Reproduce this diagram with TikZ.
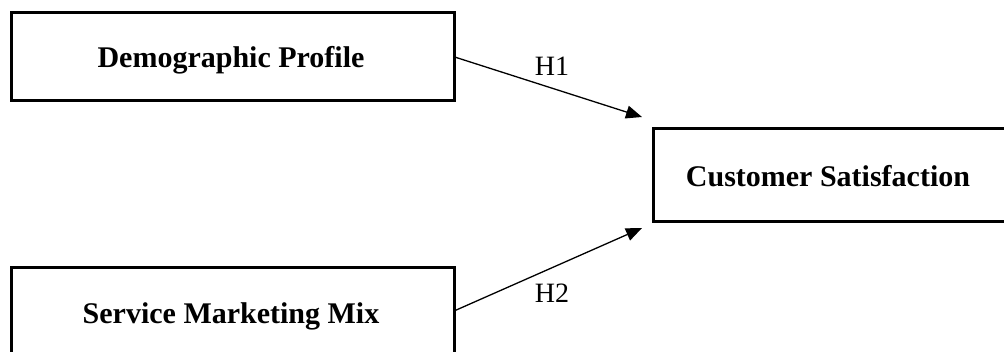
\documentclass[tikz,border=0pt]{standalone}
\usepackage{fontspec}
\setmainfont{Liberation Serif}
\usetikzlibrary{arrows.meta}
\begin{document}
\begin{tikzpicture}[x=1pt,y=-1pt,
  box/.style={draw=black,line width=2.6pt,fill=white,anchor=north west,inner sep=0pt},
  btxt/.style={font=\fontsize{30}{36}\selectfont\bfseries,anchor=base},
  conn/.style={line width=1.3pt,-{Triangle[length=16pt,width=13pt]}},
  lbl/.style={font=\fontsize{28}{32}\selectfont,anchor=base}]
\useasboundingbox (0,0) rectangle (1004,351);
\clip (0,0) rectangle (1004,351);
\node[box,minimum width=443pt,minimum height=88pt] (dp) at (10,11) {};
\node[btxt] (dpt) at (231,67) {Demographic Profile};
\node[box,minimum width=360pt,minimum height=93pt] (cs) at (652,127) {};
\node[btxt] (cst) at (828,186) {Customer Satisfaction};
\node[box,minimum width=443pt,minimum height=92pt] (sm) at (10,266) {};
\node[btxt] (smt) at (231,323) {Service Marketing Mix};
\coordinate (e1) at (642,117);
\coordinate (e2) at (642,228);
\draw[conn] ([yshift=-1pt]dp.east) -- (e1);
\draw[conn] ([yshift=3pt]sm.east) -- (e2);
\node[lbl] (h1) at (552,75) {H1};
\node[lbl] (h2) at (552,302) {H2};
\end{tikzpicture}
\end{document}
